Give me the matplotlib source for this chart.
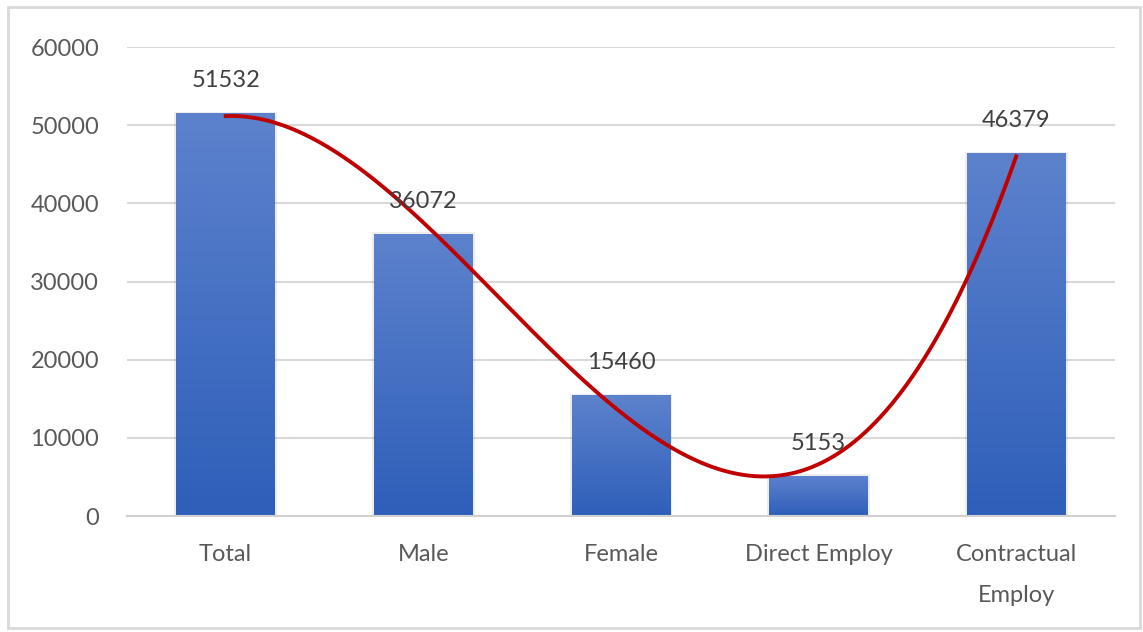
import matplotlib.pyplot as plt
import matplotlib.patches as mpatches
import numpy as np

categories = ['Total', 'Male', 'Female', 'Direct Employ', 'Contractual\nEmploy']
values = [51532, 36072, 15460, 5153, 46379]

plt.rcParams['font.family'] = ['Lato', 'DejaVu Sans']

fig = plt.figure(figsize=(11.43, 6.32), dpi=100)
ax = fig.add_axes([0.111, 0.1835, 0.8645, 0.7421])

x = np.arange(len(categories))
bars = ax.bar(x, values, width=0.5, color='none', edgecolor='none', lw=0, zorder=2)

# vertical gradient fill for every bar
grad = np.linspace(0, 1, 256).reshape(-1, 1)
cmap = plt.matplotlib.colors.LinearSegmentedColormap.from_list('b', ['#2e5fb9', '#5d82cd'])
for b in bars:
    x0, y0 = b.get_x(), b.get_y()
    w, h = b.get_width(), b.get_height()
    # soft shadow
    ax.add_patch(mpatches.Rectangle((x0 - 0.01, y0), w + 0.02, h + 200, color='#000000',
                                    alpha=0.07, lw=0, zorder=1.5))
    im = ax.imshow(grad, cmap=cmap, aspect='auto', origin='lower',
                   extent=[x0, x0 + w, y0, y0 + h], zorder=2)
    im.set_clip_path(b)

for xi, v in zip(x, values):
    ax.annotate(str(v), (xi, v), xytext=(0, 16), textcoords='offset points',
                ha='center', va='bottom', fontsize=17, color='#404040', zorder=4)

# polynomial (order 3) trendline
coef = np.polyfit(x, values, 3)
xs = np.linspace(0, 4, 300)
ax.plot(xs, np.polyval(coef, xs), color='#c00000', lw=2.8, zorder=3)

ax.set_xlim(-0.5, 4.5)
ax.set_ylim(0, 60000)
ax.set_yticks(range(0, 60001, 10000))
ax.set_xticks(x)
ax.set_xticklabels(categories, linespacing=2.2)
ax.grid(axis='y', color='#d9d9d9', lw=1.5, zorder=0)
ax.set_axisbelow(True)
for s in ['top', 'right', 'left']:
    ax.spines[s].set_visible(False)
ax.spines['bottom'].set_color('#d0d0d0')
ax.spines['bottom'].set_linewidth(1.5)
ax.tick_params(axis='y', length=0, pad=20, labelsize=17, labelcolor='#595959')
ax.tick_params(axis='x', length=0, pad=20, labelsize=17, labelcolor='#595959')

fig.patches.append(mpatches.Rectangle((0.007, 0.006), 0.99, 0.983, transform=fig.transFigure,
                                      fill=False, edgecolor='#d9d9d9', lw=2))

fig.savefig('out.png', dpi=100)
